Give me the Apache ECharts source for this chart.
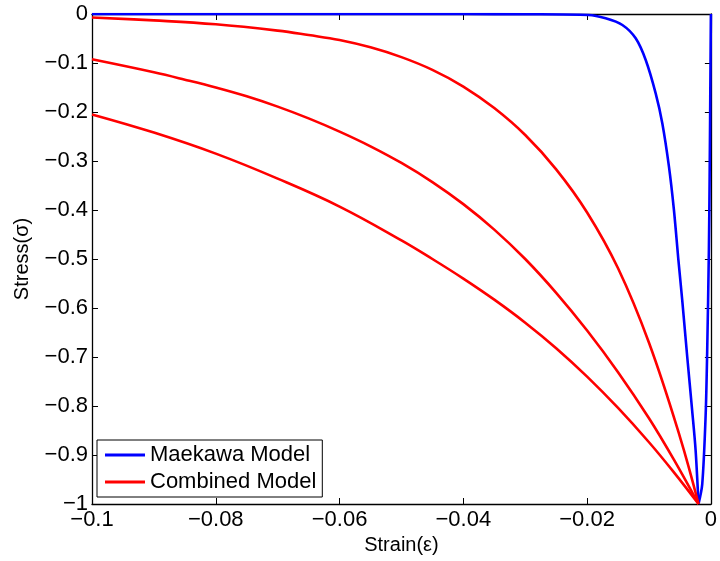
<!DOCTYPE html>
<html>
<head>
<meta charset="utf-8">
<title>Stress–strain models</title>
<script src="https://cdn.jsdelivr.net/npm/echarts@6/dist/echarts.min.js"></script>
<style>
  html, body { margin: 0; padding: 0; background: #fff; }
  #chart { width: 720px; height: 561px; }
</style>
</head>
<body>
<div id="chart"></div>
<script>
// Maekawa model: softening branch (strain, stress)
const maekawaSoftStrain = [-0.1, -0.06, -0.04, -0.03, -0.0198, -0.017, -0.0143, -0.01215, -0.01053, -0.00892, -0.00785, -0.00677, -0.00597, -0.00527, -0.00463, -0.00382, -0.00302, -0.00247, -0.002];
const maekawaSoftStress = [0, 0, -0.0001, -0.0005, -0.002, -0.0088, -0.0224, -0.0496, -0.0939, -0.162, -0.223, -0.312, -0.400, -0.499, -0.584, -0.700, -0.810, -0.890, -1];

// Maekawa model: loading branch up to the peak
const maekawaRiseStrain = [-0.002, -0.0014, -0.00085, -0.0006, -0.00032, -0.0002, -0.0001, 0];
const maekawaRiseStress = [-1, -0.96, -0.82, -0.69, -0.48, -0.33, -0.17, 0];

// Combined model, three softening curves
const combinedAStrain = [-0.1, -0.09, -0.08, -0.07, -0.065, -0.06, -0.055, -0.05, -0.045, -0.04, -0.035, -0.03, -0.025, -0.02, -0.015, -0.01, -0.005, -0.002];
const combinedAStress = [-0.007, -0.013, -0.021, -0.034, -0.043, -0.053, -0.068, -0.088, -0.114, -0.148, -0.192, -0.247, -0.317, -0.405, -0.519, -0.671, -0.863, -1];

const combinedBStrain = [-0.1, -0.09, -0.085, -0.08, -0.075, -0.07, -0.065, -0.06, -0.055, -0.05, -0.045, -0.04, -0.035, -0.03, -0.025, -0.02, -0.015, -0.01, -0.006, -0.002];
const combinedBStress = [-0.0925, -0.119, -0.134, -0.150, -0.168, -0.189, -0.213, -0.240, -0.270, -0.304, -0.343, -0.388, -0.440, -0.500, -0.569, -0.646, -0.731, -0.825, -0.909, -1];

const combinedCStrain = [-0.1, -0.09, -0.08, -0.07, -0.06, -0.05, -0.045, -0.04, -0.035, -0.03, -0.025, -0.02, -0.015, -0.01, -0.006, -0.002];
const combinedCStress = [-0.205, -0.242, -0.285, -0.336, -0.393, -0.462, -0.500, -0.540, -0.583, -0.630, -0.682, -0.740, -0.804, -0.874, -0.935, -1];

// Axis ranges and tick spacing
const strainRange = { min: -0.1, max: 0, step: 0.02 };
const stressRange = { min: -1, max: 0, step: 0.1 };

const BLUE = '#0000ff';
const RED = '#ff0000';
const FONT = '"Liberation Sans", Arial, Helvetica, sans-serif';

function pairs(xs, ys) {
  return xs.map((x, i) => [x, ys[i]]);
}

function tickText(v) {
  const r = Math.round(v * 1000) / 1000;
  return r === 0 ? '0' : String(r).replace('-', '\u2212');
}

const lineSeries = (name, color, xs, ys, smooth) => ({
  name: name,
  type: 'line',
  data: pairs(xs, ys),
  showSymbol: false,
  symbol: 'none',
  smooth: smooth,
  lineStyle: { color: color, width: 2.6 },
  itemStyle: { color: color },
  emphasis: { disabled: true },
  animation: false
});

const axisCommon = {
  type: 'value',
  axisLine: { show: true, onZero: false, lineStyle: { color: '#000', width: 1.3 } },
  axisTick: { show: true, inside: true, length: 6, lineStyle: { color: '#000', width: 1 } },
  splitLine: { show: false }
};

const chart = echarts.init(document.getElementById('chart'), null, { renderer: 'canvas' });

chart.setOption({
  backgroundColor: '#fff',
  animation: false,
  grid: { left: 92, right: 8, top: 14, bottom: 57, containLabel: false },
  xAxis: [
    Object.assign({}, axisCommon, {
      min: strainRange.min, max: strainRange.max, interval: strainRange.step,
      position: 'bottom',
      name: 'Strain(\u03b5)',
      nameLocation: 'middle',
      nameGap: 31,
      nameTextStyle: { color: '#000', fontSize: 20, fontFamily: FONT },
      axisLabel: {
        color: '#000', fontSize: 22, fontFamily: FONT, margin: 5,
        showMinLabel: true, showMaxLabel: true,
        formatter: tickText
      }
    }),
    Object.assign({}, axisCommon, {
      min: strainRange.min, max: strainRange.max, interval: strainRange.step,
      position: 'top',
      axisLabel: { show: false }
    })
  ],
  yAxis: [
    Object.assign({}, axisCommon, {
      min: stressRange.min, max: stressRange.max, interval: stressRange.step,
      position: 'left',
      name: 'Stress(\u03c3)',
      nameLocation: 'middle',
      nameGap: 60,
      nameTextStyle: { color: '#000', fontSize: 20, fontFamily: FONT },
      axisLabel: {
        color: '#000', fontSize: 22, fontFamily: FONT, margin: 4,
        showMinLabel: true, showMaxLabel: true,
        formatter: tickText
      }
    }),
    Object.assign({}, axisCommon, {
      min: stressRange.min, max: stressRange.max, interval: stressRange.step,
      position: 'right',
      axisLabel: { show: false }
    })
  ],
  legend: {
    data: ['Maekawa Model', 'Combined Model'],
    orient: 'vertical',
    left: 97,
    top: 440,
    icon: 'rect',
    itemWidth: 40,
    itemHeight: 3,
    itemGap: 5,
    padding: [4, 6, 4, 8],
    borderColor: '#000',
    borderWidth: 1,
    backgroundColor: '#fff',
    selectedMode: false,
    textStyle: { color: '#000', fontSize: 22, fontFamily: FONT, lineHeight: 22 }
  },
  series: [
    lineSeries('Maekawa Model', BLUE, maekawaSoftStrain, maekawaSoftStress, 0.3),
    lineSeries('Maekawa Model', BLUE, maekawaRiseStrain, maekawaRiseStress, 0.3),
    lineSeries('Combined Model', RED, combinedAStrain, combinedAStress, 0.4),
    lineSeries('Combined Model', RED, combinedBStrain, combinedBStress, 0.4),
    lineSeries('Combined Model', RED, combinedCStrain, combinedCStress, 0.4)
  ]
});
</script>
</body>
</html>
